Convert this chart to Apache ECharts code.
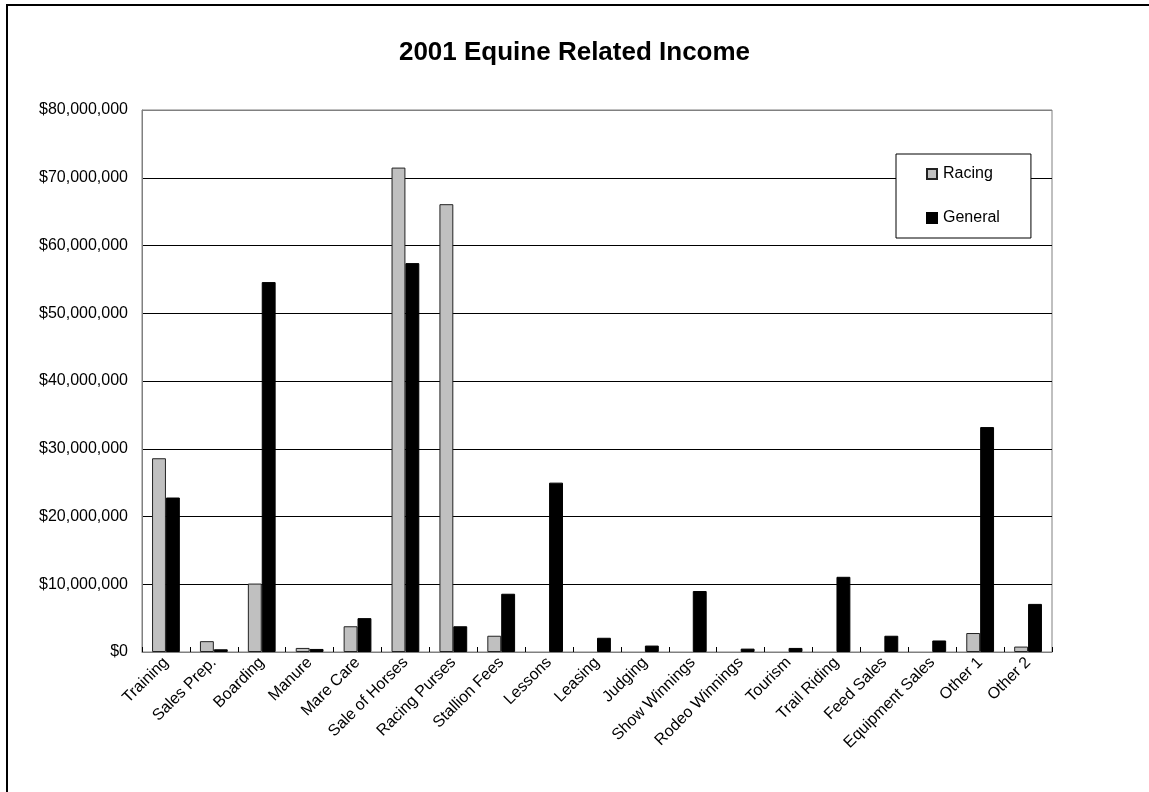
<!DOCTYPE html>
<html>
<head>
<meta charset="utf-8">
<script src="https://cdn.jsdelivr.net/npm/echarts@6/dist/echarts.min.js"></script>
<style>
	html, body { margin: 0; padding: 0; background: #fff; }
	#main { width: 1149px; height: 792px; }
</style>
</head>
<body>
<div id="main"></div>
<script>
	// categories along the x axis
	var categories = ['Training', 'Sales Prep.', 'Boarding', 'Manure', 'Mare Care', 'Sale of Horses',
		'Racing Purses', 'Stallion Fees', 'Lessons', 'Leasing', 'Judging', 'Show Winnings',
		'Rodeo Winnings', 'Tourism', 'Trail Riding', 'Feed Sales', 'Equipment Sales', 'Other 1', 'Other 2']

	// income, dollars
	var racing = [28600000, 1600000, 10100000, 600000, 3800000, 71500000,
		66100000, 2400000, 0, 0, 0, 0,
		0, 0, 0, 0, 0, 2800000, 800000]
	var general = [22800000, 400000, 54600000, 450000, 5000000, 57400000,
		3800000, 8600000, 25000000, 2100000, 950000, 9000000,
		500000, 600000, 11100000, 2400000, 1700000, 33200000, 7100000]

	var seriesNames = ['Racing', 'General']
	var yMax = 80000000
	var yStep = 10000000

	var font = 'Arial, "Liberation Sans", sans-serif'

	function money(v) {
		return '$' + v.toLocaleString('en-US')
	}
	// zero bars are not drawn at all (no hairline border)
	function noZero(arr) {
		return arr.map(function (v) { return v === 0 ? null : v })
	}

	var myChart = echarts.init(document.getElementById('main'))
	var option = {
		backgroundColor: '#fff',
		animation: false,
		title: {
			text: '2001 Equine Related Income',
			left: 'center',
			top: 35,
			textStyle: { fontFamily: font, fontSize: 26, fontWeight: 'bold', color: '#000' }
		},
		legend: {
			data: seriesNames,
			orient: 'vertical',
			left: 896,
			top: 154,
			padding: [12, 31, 12, 30],
			itemGap: 28,
			itemWidth: 10,
			itemHeight: 10,
			icon: 'rect',
			backgroundColor: '#fff',
			borderColor: '#000',
			borderWidth: 1,
			textStyle: { fontFamily: font, fontSize: 16, color: '#000', padding: [0, 0, 0, 1] }
		},
		grid: {
			left: 142,
			right: 97,
			top: 110,
			bottom: 140,
			show: true,
			borderColor: '#808080',
			borderWidth: 1
		},
		xAxis: {
			type: 'category',
			data: categories,
			axisLine: { lineStyle: { color: '#808080' } },
			axisTick: { show: true, inside: true, length: 5, lineStyle: { color: '#000' } },
			axisLabel: {
				interval: 0,
				rotate: 45,
				margin: 8,
				fontFamily: font,
				fontSize: 16,
				color: '#000'
			}
		},
		yAxis: {
			type: 'value',
			min: 0,
			max: yMax,
			interval: yStep,
			axisLine: { show: true, lineStyle: { color: '#808080' } },
			axisTick: { show: false },
			axisLabel: {
				margin: 14,
				fontFamily: font,
				fontSize: 16,
				color: '#000',
				formatter: money
			},
			splitLine: {
				lineStyle: {
					color: ['#808080', '#000', '#000', '#000', '#000', '#000', '#000', '#000', '#808080'],
					width: 1
				}
			}
		},
		series: [
			{
				name: seriesNames[0],
				type: 'bar',
				data: noZero(racing),
				barCategoryGap: '42%',
				barGap: '0%',
				itemStyle: { color: '#C0C0C0', borderColor: '#222', borderWidth: 1 }
			},
			{
				name: seriesNames[1],
				type: 'bar',
				data: noZero(general),
				barCategoryGap: '42%',
				barGap: '0%',
				itemStyle: { color: '#000', borderColor: '#000', borderWidth: 1 }
			}
		],
		graphic: [
			{ type: 'line', shape: { x1: 7, y1: 4, x2: 7, y2: 792 }, style: { stroke: '#000', lineWidth: 2 } },
			{ type: 'line', shape: { x1: 6, y1: 5, x2: 1149, y2: 5 }, style: { stroke: '#000', lineWidth: 2 } }
		]
	}
	myChart.setOption(option, true)
</script>
</body>
</html>
